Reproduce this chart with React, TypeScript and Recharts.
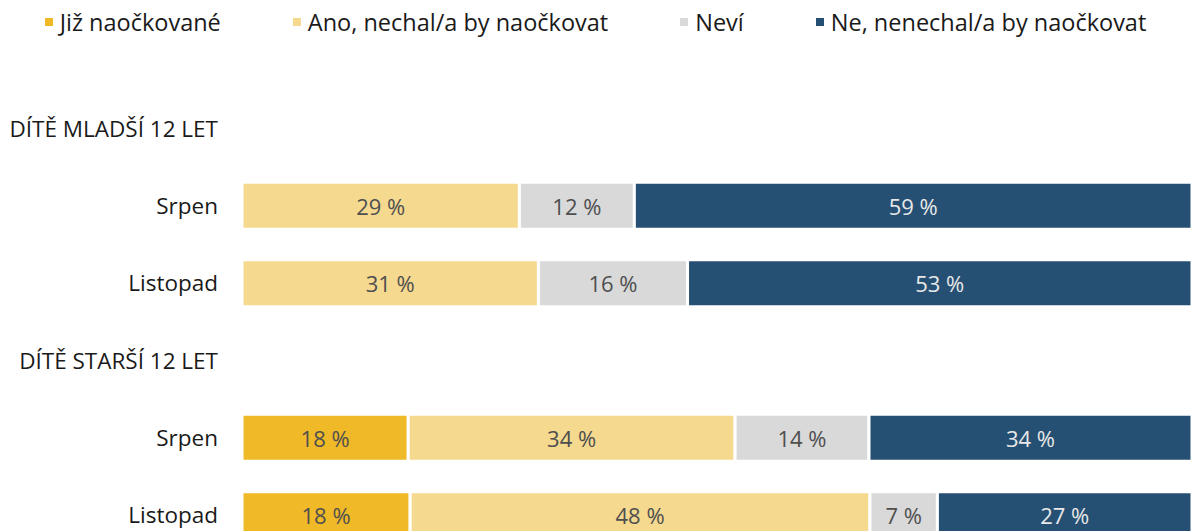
import React from 'react';
import { BarChart, Bar, XAxis, YAxis, LabelList } from 'recharts';

const categories = ['hdrYoung', 'srpenYoung', 'listopadYoung', 'hdrOld', 'srpenOld', 'listopadOld'];
const rowLabels = ['DÍTĚ MLADŠÍ 12 LET', 'Srpen', 'Listopad', 'DÍTĚ STARŠÍ 12 LET', 'Srpen', 'Listopad'];

const jizNaockovane = [null, null, null, null, 17.5, 17.7];
const anoNechal = [null, 29.2, 31.2, null, 34.4, 48.4];
const nevi = [null, 12.1, 15.7, null, 14.1, 7.1];
const neNenechal = [null, 58.7, 53.1, null, 34.0, 26.8];

const seriesNames = ['Již naočkované', 'Ano, nechal/a by naočkovat', 'Neví', 'Ne, nenechal/a by naočkovat'];
const seriesKeys = ['jiz', 'ano', 'nevi', 'ne'];
const seriesColors = ['#efb927', '#f5d98f', '#d9d9d9', '#265073'];
const labelColors = ['#4f4f4f', '#4f4f4f', '#4f4f4f', '#e8e8e8'];

const data = categories.map((id, i) => ({
  id,
  jiz: jizNaockovane[i],
  ano: anoNechal[i],
  nevi: nevi[i],
  ne: neNenechal[i],
}));

const FONT = '"Open Sans", "Noto Sans", sans-serif';

const makeLabel = (color: string) => (props: any) => {
  const { x, y, width, height, value } = props;
  if (value == null || value === 0) return null;
  return (
    <text
      x={x + width / 2}
      y={y + height / 2}
      textAnchor="middle"
      dominantBaseline="central"
      fill={color}
      fontSize={22}
      fontFamily={FONT}
    >
      {`${Math.round(value)} %`}
    </text>
  );
};

export default function App() {
  return (
    <div style={{ position: 'absolute', left: 0, top: 0, width: 1191, height: 531, overflow: 'hidden', background: '#fff', fontFamily: FONT }}>
      <div style={{ position: 'absolute', left: 0, top: 0, width: 1191, height: 44, display: 'flex', justifyContent: 'center', alignItems: 'center', gap: 72 }}>
        {seriesNames.map((name, i) => (
          <div key={name} style={{ display: 'flex', alignItems: 'center', fontSize: 23.5, color: '#1a1a1a' }}>
            <span style={{ width: 8, height: 8, background: seriesColors[i], marginRight: 7, display: 'inline-block' }} />
            {name}
          </div>
        ))}
      </div>
      <BarChart
        width={1192}
        height={554}
        data={data}
        layout="vertical"
        margin={{ top: 90, right: 0, bottom: 0, left: 0 }}
        style={{ position: 'absolute', left: 0, top: 0 }}
      >
        <XAxis type="number" domain={[0, 100]} hide />
        <YAxis
          type="category"
          dataKey="id"
          width={242}
          axisLine={false}
          tickLine={false}
          tickSize={0}
          tickMargin={24}
          interval={0}
          tickFormatter={(v: string) => rowLabels[categories.indexOf(v)]}
          tick={{ fill: '#1a1a1a', fontSize: 22.5, fontFamily: FONT }}
        />
        {seriesKeys.map((k, i) => (
          <Bar
            key={k}
            dataKey={k}
            name={seriesNames[i]}
            stackId="a"
            fill={seriesColors[i]}
            stroke="#ffffff"
            strokeWidth={3}
            barSize={47}
            isAnimationActive={false}
          >
            <LabelList dataKey={k} content={makeLabel(labelColors[i])} />
          </Bar>
        ))}
      </BarChart>
    </div>
  );
}
